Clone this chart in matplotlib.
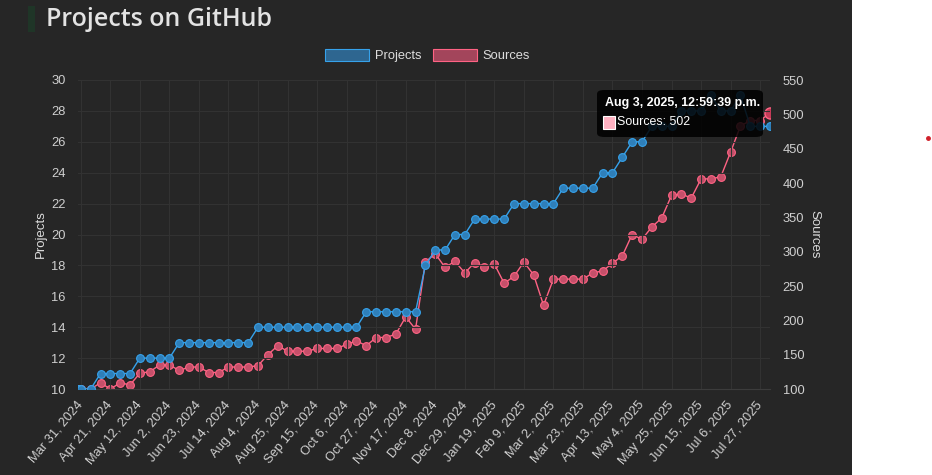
import pandas as pd
import matplotlib
matplotlib.use("Agg")
import matplotlib.pyplot as plt
import matplotlib.dates as mdates
from matplotlib.patches import Patch, FancyBboxPatch, Rectangle
from matplotlib.lines import Line2D
from matplotlib.ticker import FuncFormatter, MultipleLocator

# weekly snapshots (Sundays) plus one earlier first snapshot
first_snapshot = "2024-03-29"
weekly_start = "2024-03-31"
weekly_end = "2025-08-03"

projects = [10, 10, 10,
            11, 11, 11, 11,
            12, 12, 12, 12,
            13, 13, 13, 13, 13, 13, 13, 13,
            14, 14, 14, 14, 14, 14, 14, 14, 14, 14, 14,
            15, 15, 15, 15, 15, 15,
            18, 19, 19, 20, 20,
            21, 21, 21, 21,
            22, 22, 22, 22, 22,
            23, 23, 23, 23,
            24, 24, 25, 26, 26,
            27, 27, 27, 28, 28, 28, 29, 28, 28, 29,
            27, 27, 27]

sources = [100, 100, 100,
           109, 100, 109, 106, 123, 125, 135, 135,
           127, 132, 132, 124, 124, 132, 132, 132,
           134, 150, 163, 155, 155, 155, 159, 159, 159, 165, 170,
           163, 175, 175, 180, 205, 187,
           285, 297, 277, 286, 269, 284, 278, 282, 254, 264,
           285, 266, 222, 260, 260, 260, 260, 269, 272, 283,
           294, 325, 318, 336, 349, 382, 384, 378, 406, 406,
           409, 445, 483, 491, 491, 502]

tick_start = "2024-03-31"
tooltip_title = "Aug 3, 2025, 12:59:39 p.m."
tooltip_label = "Sources: 502"

dates = [pd.Timestamp(first_snapshot)] + list(pd.date_range(weekly_start, weekly_end, freq="7D"))

BG = "#262626"
BLUE = "#36A2EB"
RED = "#FF6384"
GRID = "#323232"
TXT = "#cfcfcf"

plt.rcParams['font.family'] = ['Liberation Sans', 'DejaVu Sans']

fig = plt.figure(figsize=(9.32, 4.75), dpi=100, facecolor=BG)
W, H = 932, 475

# white strip on the right side of the page
fig.add_artist(Rectangle((852 / W, 0), 1, 1, transform=fig.transFigure, facecolor="white",
                         edgecolor="none", zorder=0))
fig.add_artist(Line2D([928 / W], [1 - 138 / H], transform=fig.transFigure, marker="o",
                      markersize=2.5, color="#d0202a", linestyle="none"))

# title with its green bar
fig.add_artist(Rectangle((28 / W, 1 - 32 / H), 7 / W, 26 / H, transform=fig.transFigure,
                         facecolor="#1f3527", edgecolor="none"))
fig.text(46 / W, 1 - 20 / H, "Projects on GitHub", fontsize=18, color="#e3e3e3",
         family=["Open Sans", "DejaVu Sans"], weight="semibold", va="center", ha="left")

ax = fig.add_axes([78 / W, 1 - 389 / H, (770 - 78) / W, (389 - 80) / H])
ax2 = ax.twinx()
ax.set_zorder(ax2.get_zorder() + 1)
ax.patch.set_visible(False)
ax2.patch.set_visible(False)

ax.plot(dates, projects, color=BLUE, lw=1.0, marker="o", markersize=5.6,
        markerfacecolor="#2f7fb9", markeredgecolor=BLUE, markeredgewidth=0.8, zorder=3)
ax2.plot(dates, sources, color=RED, lw=1.0, marker="o", markersize=5.6,
         markerfacecolor="#c5506a", markeredgecolor=RED, markeredgewidth=0.8, zorder=3)
# hovered point
ax2.plot(dates[-1:], sources[-1:], linestyle="none", marker="o", markersize=8,
         markerfacecolor="#c53a57", markeredgecolor=RED, markeredgewidth=1, zorder=4)

ax.set_xlim(dates[0], dates[-1])
ax.set_ylim(10, 30)
ax2.set_ylim(100, 550)
ax.yaxis.set_major_locator(MultipleLocator(2))
ax2.yaxis.set_major_locator(MultipleLocator(50))

ticks = list(pd.date_range(tick_start, weekly_end, freq="21D"))
ax.set_xticks(ticks)
ax.xaxis.set_major_formatter(FuncFormatter(
    lambda v, p: (lambda d: f"{d:%b} {d.day}, {d.year}")(mdates.num2date(v))))
for lab in ax.get_xticklabels():
    lab.set_rotation(50)
    lab.set_ha("right")
    lab.set_va("center")
    lab.set_rotation_mode("anchor")

for a in (ax, ax2):
    for s in a.spines.values():
        s.set_visible(False)
    a.tick_params(length=0, colors=TXT, labelsize=9.3)
ax.tick_params(axis="x", pad=10)
ax.tick_params(axis="y", pad=9)
ax2.tick_params(axis="y", pad=9)
ax.spines["bottom"].set_visible(True)
ax.spines["bottom"].set_color("#3c3c3c")

ax.grid(True, color=GRID, lw=0.8)
ax.set_axisbelow(True)

ax.set_ylabel("Projects", color="#dddddd", fontsize=9.5, labelpad=3)
ax2.set_ylabel("Sources", color="#dddddd", fontsize=9.5, rotation=-90, labelpad=12)

handles = [Patch(facecolor="#2e6690", edgecolor=BLUE, lw=0.8, label="Projects"),
           Patch(facecolor="#a3455b", edgecolor=RED, lw=0.8, label="Sources")]
leg = ax.legend(handles=handles, loc="lower center", bbox_to_anchor=(0.505, 1.02), ncol=2,
                frameon=False, fontsize=9.3, handlelength=3.4, handleheight=1.0,
                columnspacing=0.9, handletextpad=0.45, labelcolor="#dddddd")

# tooltip
fig.add_artist(FancyBboxPatch((597 / W, 1 - 137 / H), 166 / W, 47 / H,
                              boxstyle="round,pad=0,rounding_size=0.008",
                              transform=fig.transFigure, facecolor=(0, 0, 0, 0.85),
                              edgecolor="none", zorder=10))
fig.text(605 / W, 1 - 103 / H, tooltip_title, color="white", fontsize=8.9, weight="bold",
         va="center", ha="left", zorder=11)
fig.add_artist(Rectangle((603 / W, 1 - 129 / H), 12 / W, 13 / H, transform=fig.transFigure,
                         facecolor="#ffb1c1", edgecolor="white", lw=0.8, zorder=11))
fig.text(617 / W, 1 - 122 / H, tooltip_label, color="white", fontsize=8.9,
         va="center", ha="left", zorder=11)

fig.savefig("out.png", dpi=100, facecolor=BG)
